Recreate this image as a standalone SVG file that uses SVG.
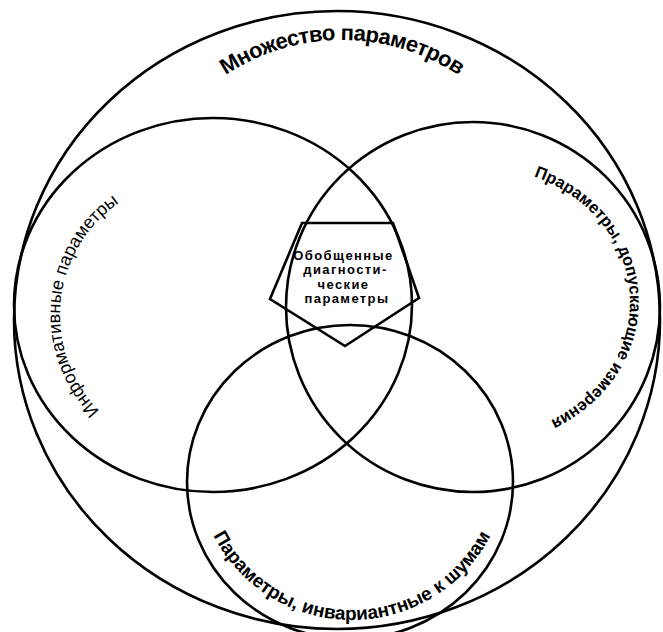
<svg xmlns="http://www.w3.org/2000/svg" width="663" height="632" viewBox="0 0 663 632">
  <style>
    .ring { fill: none; stroke: #000; stroke-width: 2.6; }
    .lbl { font-family: "Liberation Sans", Arial, sans-serif; fill: #000; }
    .b { font-weight: bold; }
  </style>
  <defs>
    <!-- baselines for the curved captions -->
    <path id="arcTop" d="M132,250 A210,210 0 0 1 552,250"/>
    <path id="arcLeft" d="M196,451 A136,136 0 0 1 196,179"/>
    <path id="arcRight" d="M478,167 A152,135 0 0 1 478,437"/>
    <path id="arcBottom" d="M196,464 A156,156 0 0 0 508,464"/>
  </defs>
  <rect width="663" height="632" fill="#fff"/>

  <g id="all-params">
    <ellipse class="ring" cx="337" cy="320" rx="323" ry="309"/>
    <text class="lbl b" font-size="22" letter-spacing="-0.6"><textPath href="#arcTop" startOffset="50%" text-anchor="middle">Множество параметров</textPath></text>
  </g>

  <g id="informative">
    <ellipse class="ring" cx="213" cy="305" rx="199" ry="187"/>
    <text class="lbl" font-size="18"><textPath href="#arcLeft" startOffset="53%" text-anchor="middle">Информативные параметры</textPath></text>
  </g>

  <g id="measurable">
    <ellipse class="ring" cx="473" cy="307" rx="187" ry="185"/>
    <text class="lbl b" font-size="16.5"><textPath href="#arcRight" startOffset="48%" text-anchor="middle">Прараметры, допускающие измерения</textPath></text>
  </g>

  <g id="noise-invariant">
    <ellipse class="ring" cx="350" cy="482" rx="163" ry="157"/>
    <text class="lbl b" font-size="19"><textPath href="#arcBottom" startOffset="50%" text-anchor="middle">Параметры, инвариантные к шумам</textPath></text>
  </g>

  <g id="generalized">
    <polygon class="ring" points="302,223 393,223 419,298 345,346 270,299"/>
    <text class="lbl b" font-size="13" letter-spacing="1.4" text-anchor="middle">
      <tspan x="346" y="259.5">Обобщенные</tspan>
      <tspan x="348" y="274">диагности-</tspan>
      <tspan x="346" y="288.5">ческие</tspan>
      <tspan x="347" y="303">параметры</tspan>
    </text>
  </g>
</svg>
